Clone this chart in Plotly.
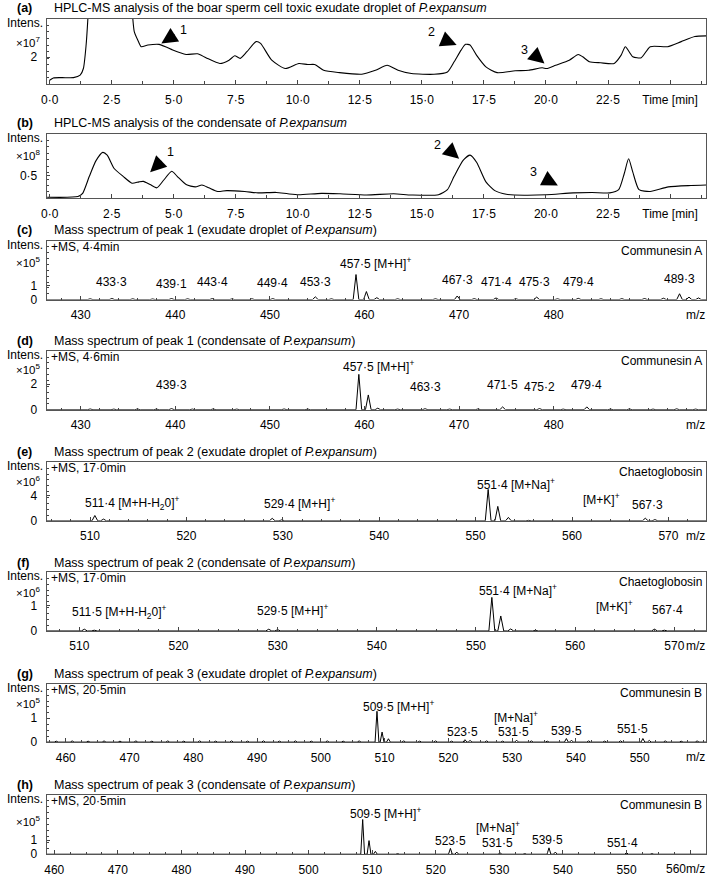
import plotly.graph_objects as go

W, H = 709, 888
FONT = "Liberation Sans, Arial, sans-serif"

# ---------------- data: chromatograms ----------------
time_a = [0.0, 0.15, 0.5, 0.96, 1.23, 1.36, 1.47, 1.54, 1.6, 1.8, 3.2, 3.32, 3.41, 3.55, 3.69, 3.96,
          4.41, 4.7, 4.96, 5.5, 5.96, 6.3, 6.86, 7.23, 7.46, 7.68, 7.95, 8.32, 8.5, 8.95, 9.5,
          10.04, 10.4, 10.68, 11.04, 11.68, 12.58, 13.13, 13.6, 14.04, 14.58, 15.49, 16.03, 16.3,
          16.58, 16.76, 16.94, 17.2, 17.58, 18.03, 18.76, 19.3, 19.85, 20.03, 20.39, 20.94, 21.3,
          21.48, 21.75, 22.2, 22.75, 23.03, 23.2, 23.5, 23.84, 24.2, 24.9, 25.45, 26.0, 26.45]
intens_a = [0.30, 0.47, 0.49, 0.49, 0.67, 1.16, 2.88, 4.8, 7.0, 9.0, 8.0, 5.5, 3.87, 3.25, 2.76, 2.88,
            2.93, 2.73, 2.51, 2.19, 2.24, 1.95, 1.53, 1.77, 2.09, 1.90, 2.39, 3.13, 3.00, 1.77, 1.16,
            1.53, 1.45, 1.45, 1.03, 0.86, 0.74, 1.03, 1.40, 1.03, 0.79, 0.74, 0.91, 1.65,
            2.51, 2.93, 2.88, 2.14, 1.28, 0.86, 0.99, 1.03, 1.21, 1.16, 1.40, 1.77, 2.19,
            2.02, 1.65, 1.58, 1.53, 2.14, 2.76, 2.02, 1.95, 2.76, 2.76, 3.13, 3.50, 3.55]

time_b = [-0.1, 1.14, 1.33, 1.6, 1.87, 2.14, 2.32, 2.6, 2.96, 3.32, 3.6, 3.78, 4.05, 4.32, 4.6, 4.92,
          5.14, 5.5, 5.87, 6.14, 6.41, 6.77, 7.14, 7.86, 8.4, 9.13, 9.6, 10.04, 10.95, 11.7, 12.77,
          13.86, 14.58, 15.67, 16.03, 16.3, 16.67, 16.94, 17.21, 17.58, 17.94, 18.4, 19.12, 20.03,
          21.1, 21.85, 22.57, 22.93, 23.15, 23.33, 23.5, 23.75, 24.2, 24.93, 25.84, 26.45]
intens_b = [0.025, 0.04, 0.11, 0.48, 0.82, 1.0, 0.94, 0.65, 0.48, 0.33, 0.36, 0.37, 0.30, 0.23, 0.40, 0.59,
            0.48, 0.30, 0.25, 0.29, 0.23, 0.15, 0.17, 0.15, 0.12, 0.13, 0.10, 0.08, 0.11, 0.10, 0.075,
            0.10, 0.075, 0.08, 0.19, 0.48, 0.83, 0.94, 0.78, 0.36, 0.17, 0.09, 0.07, 0.08,
            0.12, 0.13, 0.12, 0.19, 0.53, 0.86, 0.57, 0.19, 0.15, 0.25, 0.28, 0.29]

time_tickvals = [0, 2.5, 5, 7.5, 10, 12.5, 15, 17.5, 20, 22.5, 25]
time_ticktext = ["0·0", "2·5", "5·0", "7·5", "10·0", "12·5", "15·0", "17·5", "20·0", "22·5", "Time [min]"]

# peak markers on chromatograms: number, arrow head (x,y), arrow tail (x,y), number position (x,y)
marks_a_num = ["1", "2", "3"]
marks_a_head_x = [4.5, 16.4, 19.94]
marks_a_head_y = [3.0, 2.88, 1.53]
marks_a_tail_x = [5.1, 15.8, 19.42]
marks_a_tail_y = [3.7, 3.34, 2.34]
marks_a_num_x = [5.4, 15.4, 19.12]
marks_a_num_y = [4.0, 3.87, 2.51]

marks_b_num = ["1", "2", "3"]
marks_b_head_x = [4.05, 16.5, 20.48]
marks_b_head_y = [0.57, 0.86, 0.28]
marks_b_tail_x = [4.57, 16.02, 19.95]
marks_b_tail_y = [0.84, 1.09, 0.43]
marks_b_num_x = [4.87, 15.63, 19.48]
marks_b_num_y = [1.0, 1.15, 0.57]

# ---------------- data: mass spectra ----------------
mz_c = [428.2, 431.0, 433.3, 435.5, 437.6, 439.6, 441.3, 443.9, 446.0, 448.1, 450.3, 452.0, 454.8,
        456.5, 459.1, 460.2, 461.3, 463.5, 465.8, 467.5, 469.8, 471.6, 473.9, 476.0, 478.2, 480.4,
        482.6, 485.0, 487.2, 489.6, 491.6, 493.3, 494.3, 495.3]
int_c = [0.05, 0.06, 0.08, 0.06, 0.05, 0.08, 0.06, 0.07, 0.05, 0.06, 0.07, 0.05, 0.20,
         0.06, 1.80, 0.58, 0.14, 0.06, 0.05, 0.06, 0.26, 0.07, 0.12, 0.06, 0.18, 0.06,
         0.09, 0.06, 0.07, 0.08, 0.10, 0.42, 0.18, 0.12]
lab_c_text = ["433·3", "439·1", "443·4", "449·4", "453·3", "457·5 [M+H]<sup>+</sup>", "467·3",
              "471·4", "475·3", "479·4", "489·3"]
lab_c_x = [433.3, 439.6, 443.9, 450.3, 454.8, 461.2, 469.8, 473.9, 478.0, 482.6, 493.3]
lab_c_y = [1.3, 1.15, 1.25, 1.2, 1.25, 2.6, 1.4, 1.25, 1.25, 1.25, 1.45]

mz_d = [428.5, 431.0, 433.5, 436.0, 438.0, 439.6, 441.8, 444.0, 446.5, 449.0, 451.5, 454.0, 456.5,
        459.4, 460.4, 461.4, 463.5, 466.4, 469.0, 472.0, 474.6, 476.5, 478.5, 481.0, 483.5, 486.0,
        488.0, 490.5, 493.0, 495.0]
int_d = [0.05, 0.06, 0.05, 0.06, 0.05, 0.09, 0.05, 0.06, 0.05, 0.05, 0.06, 0.05, 0.05,
         2.75, 1.15, 0.12, 0.05, 0.08, 0.05, 0.06, 0.22, 0.05, 0.09, 0.05, 0.22, 0.05,
         0.06, 0.05, 0.07, 0.05]
lab_d_text = ["439·3", "457·5 [M+H]<sup>+</sup>", "463·3", "471·5", "475·2", "479·4"]
lab_d_x = [439.6, 461.5, 466.4, 474.6, 478.5, 483.5]
lab_d_y = [1.95, 3.4, 1.8, 1.95, 1.8, 1.95]

mz_e = [507.0, 510.5, 511.4, 513.5, 516.0, 518.5, 521.0, 523.5, 526.0, 528.9, 529.9, 532.5, 535.0,
        537.5, 540.0, 542.5, 545.0, 547.5, 549.5, 551.3, 552.3, 553.4, 555.5, 558.0, 560.5, 563.0,
        565.5, 567.6, 568.6, 570.5, 572.5]
int_e = [0.08, 0.85, 0.28, 0.08, 0.06, 0.07, 0.06, 0.08, 0.06, 0.40, 0.16, 0.06, 0.07,
         0.06, 0.07, 0.06, 0.08, 0.06, 0.07, 5.0, 2.3, 0.55, 0.08, 0.06, 0.07, 0.06,
         0.08, 0.42, 0.2, 0.07, 0.06]
lab_e_text = ["511·4 [M+H-H<sub>2</sub>0]<sup>+</sup>", "529·4 [M+H]<sup>+</sup>",
              "551·4 [M+Na]<sup>+</sup>", "[M+K]<sup>+</sup>", "567·3"]
lab_e_x = [514.4, 531.75, 554.2, 563.1, 567.8]
lab_e_y = [2.8, 2.9, 5.8, 3.4, 2.55]

mz_f = [507.5, 510.5, 511.5, 514.0, 517.0, 520.0, 523.0, 526.0, 529.1, 530.0, 533.0, 536.0, 539.0,
        542.0, 545.0, 548.0, 550.5, 551.6, 552.5, 553.5, 556.0, 559.0, 562.0, 565.0, 568.0, 569.0,
        571.5]
int_f = [0.02, 0.07, 0.03, 0.02, 0.02, 0.02, 0.02, 0.02, 0.07, 0.05, 0.02, 0.02, 0.02,
         0.02, 0.02, 0.02, 0.02, 1.32, 0.59, 0.08, 0.02, 0.02, 0.02, 0.02, 0.07, 0.03,
         0.02]
lab_f_text = ["511·5 [M+H-H<sub>2</sub>0]<sup>+</sup>", "529·5 [M+H]<sup>+</sup>",
              "551·4 [M+Na]<sup>+</sup>", "[M+K]<sup>+</sup>", "567·4"]
lab_f_x = [514.0, 531.5, 554.2, 564.0, 569.3]
lab_f_y = [0.75, 0.84, 1.6, 1.0, 0.82]

mz_g = [458.5, 461.0, 463.5, 466.0, 468.5, 471.0, 473.5, 476.0, 478.5, 481.0, 483.5, 486.0, 488.5,
        491.0, 493.5, 496.0, 498.5, 501.0, 503.5, 506.0, 508.8, 509.6, 510.6, 513.0, 515.5, 518.0,
        520.5, 522.6, 523.4, 526.0, 528.5, 530.7, 533.0, 535.5, 538.5, 539.3, 542.0, 544.5, 547.0,
        550.5, 551.5, 554.0, 556.5, 559.0]
int_g = [0.04, 0.05, 0.04, 0.05, 0.04, 0.05, 0.04, 0.05, 0.04, 0.05, 0.04, 0.05, 0.04,
         0.05, 0.04, 0.05, 0.04, 0.05, 0.04, 0.05, 1.29, 0.42, 0.14, 0.05, 0.04, 0.05,
         0.04, 0.10, 0.07, 0.05, 0.04, 0.08, 0.05, 0.04, 0.15, 0.08, 0.05, 0.04, 0.05,
         0.15, 0.07, 0.05, 0.04, 0.05]
lab_g_text = ["509·5 [M+H]<sup>+</sup>", "[M+Na]<sup>+</sup>", "523·5", "531·5", "539·5", "551·5"]
lab_g_x = [512.2, 530.6, 522.2, 530.2, 538.5, 548.9]
lab_g_y = [1.5, 1.06, 0.41, 0.43, 0.46, 0.53]

mz_h = [460.0, 465.0, 470.0, 475.0, 480.0, 485.0, 490.0, 495.0, 500.0, 505.0, 508.5, 509.5, 510.5,
        514.0, 518.0, 522.3, 523.3, 526.0, 530.1, 534.0, 537.8, 538.8, 542.0, 546.0, 550.0, 554.0,
        558.0]
int_h = [0.04, 0.04, 0.04, 0.04, 0.04, 0.04, 0.04, 0.04, 0.04, 0.04, 2.45, 0.96, 0.2,
         0.04, 0.04, 0.41, 0.15, 0.05, 0.1, 0.04, 0.45, 0.15, 0.04, 0.04, 0.1, 0.04,
         0.04]
lab_h_text = ["509·5 [M+H]<sup>+</sup>", "[M+Na]<sup>+</sup>", "523·5", "531·5", "539·5", "551·4"]
lab_h_x = [512.1, 529.75, 522.3, 529.75, 537.6, 549.3]
lab_h_y = [2.9, 1.9, 0.95, 0.78, 1.0, 0.8]

# ---------------- panel text ----------------
panel_letters = ["(a)", "(b)", "(c)", "(d)", "(e)", "(f)", "(g)", "(h)"]
panel_titles = [
    "HPLC-MS analysis of the boar sperm cell toxic exudate droplet of <i>P.expansum</i>",
    "HPLC-MS analysis of the condensate of <i>P.expansum</i>",
    "Mass spectrum of peak 1 (exudate droplet of <i>P.expansum</i>)",
    "Mass spectrum of peak 1 (condensate of <i>P.expansum</i>)",
    "Mass spectrum of peak 2 (exudate droplet of <i>P.expansum</i>)",
    "Mass spectrum of peak 2 (condensate of <i>P.expansum</i>)",
    "Mass spectrum of peak 3 (exudate droplet of <i>P.expansum</i>)",
    "Mass spectrum of peak 3 (condensate of <i>P.expansum</i>)",
]
scale_labels = ["×10<sup>7</sup>", "×10<sup>8</sup>", "×10<sup>5</sup>", "×10<sup>5</sup>",
                "×10<sup>6</sup>", "×10<sup>6</sup>", "×10<sup>5</sup>", "×10<sup>5</sup>"]
scan_labels = [None, None, "+MS, 4·4min", "+MS, 4·6min", "+MS, 17·0min", "+MS, 17·0min",
               "+MS, 20·5min", "+MS, 20·5min"]
compound_labels = [None, None, "Communesin A", "Communesin A", "Chaetoglobosin", "Chaetoglobosin",
                   "Communesin B", "Communesin B"]
axis_unit_labels = [None, None, "m/z", "m/z", "m/z", "m/z", "m/z", "560m/z"]

# y tick values per panel
ytick_vals = [[2], [0.5], [0, 1], [0, 2], [0, 4], [0, 1], [0, 1], [0, 1]]
ytick_text = [["2"], ["0·5"], ["0", "1"], ["0", "2"], ["0", "4"], ["0", "1"], ["0", "1"], ["0", "1"]]

mz_tick_c = [430, 440, 450, 460, 470, 480]
mz_tick_e = [510, 520, 530, 540, 550, 560, 570]
mz_tick_g = [460, 470, 480, 490, 500, 510, 520, 530, 540, 550]
mz_tick_h = [460, 470, 480, 490, 500, 510, 520, 530, 540, 550, 560]
mz_tick_h_text = ["460", "470", "480", "490", "500", "510", "520", "530", "540", "550", ""]

# ---------------- layout geometry (pixels) ----------------
BOX_L, BOX_R = 41, 706
geom = [  # title y, box top, box bottom
    (8, 19, 85), (124, 135, 200), (232, 243, 302), (344, 354, 413),
    (456, 466, 525), (567, 577, 636), (679, 689, 748), (791, 801, 861)]
x_ranges = [[-0.12, 26.45], [-0.12, 26.45], [426.4, 496.1], [426.4, 496.1],
            [505.5, 573.9], [506.7, 573.2], [457.0, 560.4], [458.8, 562.5]]
y_ranges = [[0, 4.8], [0, 1.4], [0, 4.2], [0, 4.55], [0, 9.3], [0, 2.3], [0, 2.45], [0, 4.2]]
scale_label_y = [3.1, 0.95, 2.7, 3.15, 6.3, 1.55, 1.65, 2.35]


def px_x(p):
    return p / W


def px_y(p):
    return 1 - p / H


def spectrum_profile(mz, inten, lo, hi, hw=0.3):
    xs, ys = [lo], [0]
    for m, v in sorted(zip(mz, inten)):
        xs += [m - hw, m, m + hw]
        ys += [0, v, 0]
    xs.append(hi)
    ys.append(0)
    return xs, ys


fig = go.Figure()
traces = [(time_a, intens_a), (time_b, intens_b)]
spectra = [(mz_c, int_c), (mz_d, int_d), (mz_e, int_e), (mz_f, int_f), (mz_g, int_g), (mz_h, int_h)]

for i in range(8):
    ax = "" if i == 0 else str(i + 1)
    if i < 2:
        xs, ys = traces[i]
        line = dict(color="black", width=1.1, shape="spline", smoothing=0.6)
    else:
        mz, it = spectra[i - 2]
        xs, ys = spectrum_profile(mz, it, x_ranges[i][0], x_ranges[i][1])
        line = dict(color="black", width=1)
    fig.add_trace(go.Scatter(x=xs, y=ys, mode="lines", line=line,
                             xaxis="x" + ax, yaxis="y" + ax, showlegend=False, hoverinfo="skip"))

annotations = []
layout_axes = {}
tickfont = dict(family=FONT, size=12, color="black")
for i in range(8):
    ax = "" if i == 0 else str(i + 1)
    tY, top, bot = geom[i]
    if i < 2:
        xt_vals, xt_text = time_tickvals, time_ticktext
        xminor = dict(ticks="inside", ticklen=3, dtick=1.25, tick0=0, tickcolor="#444")
    elif i < 4:
        xt_vals, xt_text = mz_tick_c, [str(v) for v in mz_tick_c]
        xminor = dict(ticks="inside", ticklen=2, dtick=2, tick0=0, tickcolor="#444")
    elif i < 6:
        xt_vals, xt_text = mz_tick_e, [str(v) for v in mz_tick_e]
        xminor = dict(ticks="inside", ticklen=2, dtick=2, tick0=0, tickcolor="#444")
    elif i == 6:
        xt_vals, xt_text = mz_tick_g, [str(v) for v in mz_tick_g]
        xminor = dict(ticks="inside", ticklen=2, dtick=2.5, tick0=0, tickcolor="#444")
    else:
        xt_vals, xt_text = mz_tick_h, mz_tick_h_text
        xminor = dict(ticks="inside", ticklen=2, dtick=2.5, tick0=0, tickcolor="#444")
    layout_axes["xaxis" + ax] = dict(
        domain=[px_x(BOX_L), px_x(BOX_R)], range=x_ranges[i], anchor="y" + ax,
        showline=True, mirror=True, linecolor="#555", linewidth=1,
        ticks="inside", ticklen=4, tickcolor="#444", tickmode="array",
        tickvals=xt_vals, ticktext=xt_text, tickfont=tickfont, showgrid=False, zeroline=False,
        ticklabelstandoff=4, minor=xminor, fixedrange=True)
    layout_axes["yaxis" + ax] = dict(
        domain=[px_y(bot), px_y(top)], range=y_ranges[i], anchor="x" + ax,
        showline=True, mirror=True, linecolor="#555", linewidth=1,
        ticks="inside", ticklen=3, tickcolor="#444", tickmode="array",
        tickvals=ytick_vals[i], ticktext=ytick_text[i], tickfont=tickfont,
        showgrid=False, zeroline=False, ticklabelstandoff=6,
        minor=dict(ticks="inside", ticklen=2, tickcolor="#444",
                   dtick=(y_ranges[i][1] / 10)), fixedrange=True)

    annotations.append(dict(text="<b>" + panel_letters[i] + "</b>", xref="paper", yref="paper",
                            x=px_x(9), y=px_y(tY), xanchor="left", yanchor="middle",
                            showarrow=False, font=dict(family=FONT, size=12.5, color="black")))
    annotations.append(dict(text=panel_titles[i], xref="paper", yref="paper",
                            x=px_x(46), y=px_y(tY), xanchor="left", yanchor="middle",
                            showarrow=False, font=dict(family=FONT, size=12.5, color="black")))
    annotations.append(dict(text="Intens.", xref="paper", yref="paper",
                            x=px_x(39), y=px_y(top + 4), xanchor="right", yanchor="middle",
                            showarrow=False, font=dict(family=FONT, size=12, color="black")))
    annotations.append(dict(text=scale_labels[i], xref="paper", yref="y" + ax,
                            x=px_x(37), y=scale_label_y[i], xanchor="right", yanchor="middle",
                            showarrow=False, font=dict(family=FONT, size=11.5, color="black")))
    if scan_labels[i]:
        annotations.append(dict(text=scan_labels[i], xref="paper", yref="paper",
                                x=px_x(43), y=px_y(top + 6), xanchor="left", yanchor="middle",
                                showarrow=False, font=dict(family=FONT, size=12, color="black")))
    if compound_labels[i]:
        annotations.append(dict(text=compound_labels[i], xref="paper", yref="paper",
                                x=px_x(704), y=px_y(top + 10), xanchor="right", yanchor="middle",
                                showarrow=False, font=dict(family=FONT, size=12, color="black")))
    if axis_unit_labels[i]:
        annotations.append(dict(text=axis_unit_labels[i], xref="paper", yref="paper",
                                x=px_x(707), y=px_y(bot + 15), xanchor="right", yanchor="middle",
                                showarrow=False, font=dict(family=FONT, size=12, color="black")))

# chromatogram peak arrows
for ax, nums, hx, hy, tx, ty, nx, ny in [
        ("", marks_a_num, marks_a_head_x, marks_a_head_y, marks_a_tail_x, marks_a_tail_y, marks_a_num_x, marks_a_num_y),
        ("2", marks_b_num, marks_b_head_x, marks_b_head_y, marks_b_tail_x, marks_b_tail_y, marks_b_num_x, marks_b_num_y)]:
    for k in range(len(nums)):
        annotations.append(dict(text="", xref="x" + ax, yref="y" + ax, x=hx[k], y=hy[k],
                                axref="x" + ax, ayref="y" + ax, ax=tx[k], ay=ty[k],
                                showarrow=True, arrowhead=2, arrowsize=2.0, arrowwidth=1.6,
                                arrowcolor="black", standoff=0))
        annotations.append(dict(text=nums[k], xref="x" + ax, yref="y" + ax, x=nx[k], y=ny[k],
                                showarrow=False, font=dict(family=FONT, size=12.5, color="black")))

# spectrum peak labels
for ax, texts, lx, ly in [("3", lab_c_text, lab_c_x, lab_c_y), ("4", lab_d_text, lab_d_x, lab_d_y),
                          ("5", lab_e_text, lab_e_x, lab_e_y), ("6", lab_f_text, lab_f_x, lab_f_y),
                          ("7", lab_g_text, lab_g_x, lab_g_y), ("8", lab_h_text, lab_h_x, lab_h_y)]:
    for k in range(len(texts)):
        annotations.append(dict(text=texts[k], xref="x" + ax, yref="y" + ax, x=lx[k], y=ly[k],
                                xanchor="center", yanchor="middle", showarrow=False,
                                font=dict(family=FONT, size=12, color="black")))

fig.update_layout(width=W, height=H, margin=dict(l=0, r=0, t=0, b=0),
                  paper_bgcolor="white", plot_bgcolor="white",
                  font=dict(family=FONT, size=12, color="black"),
                  annotations=annotations, showlegend=False, **layout_axes)

fig.write_html("out.html", config={"displayModeBar": False, "staticPlot": True},
               post_script="document.body.style.margin='0';document.body.style.overflow='hidden';")
